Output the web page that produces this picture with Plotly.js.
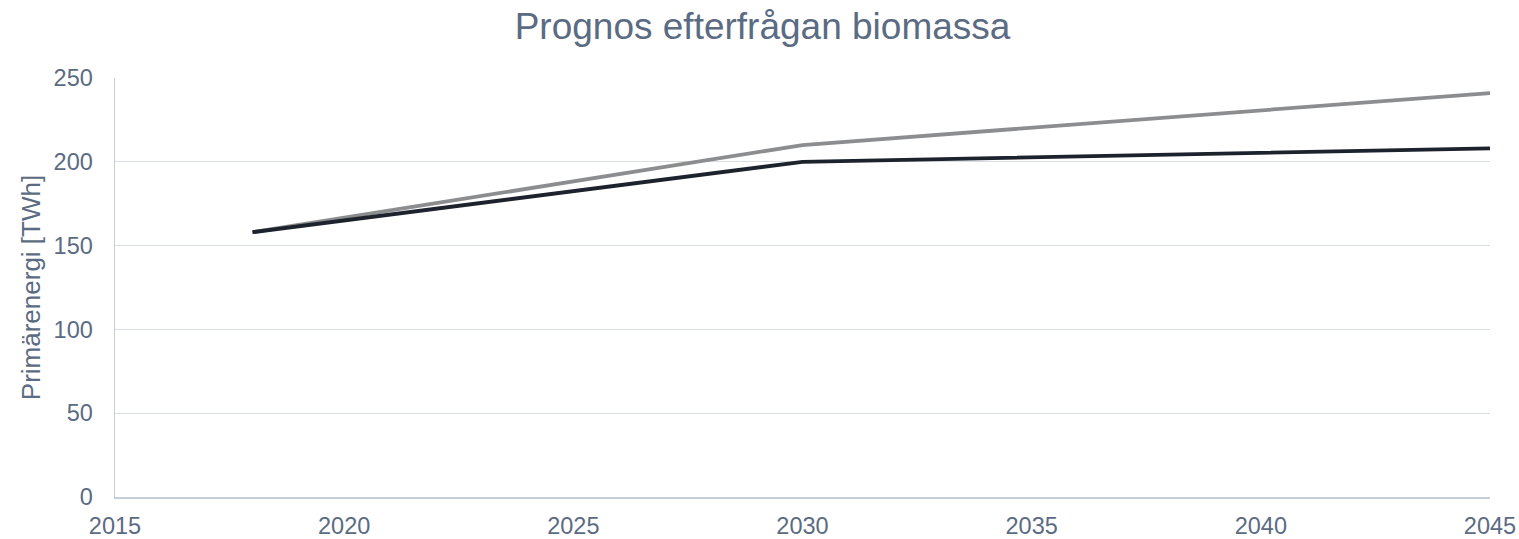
<!DOCTYPE html>
<html>
<head>
<meta charset="utf-8">
<script src="https://cdn.plot.ly/plotly-3.0.1.min.js"></script>
<style>html,body{margin:0;padding:0;background:#fff;}#chart{width:1519px;height:539px;}</style>
</head>
<body>
<div id="chart"></div>
<script>
const years = [2018, 2030, 2045];
const seriesHigh = [158, 210, 241];
const seriesLow = [158, 200, 208];
const xTicks = [2015, 2020, 2025, 2030, 2035, 2040, 2045];
const yTicks = [0, 50, 100, 150, 200, 250];

const textColor = '#5b6b82';
const traces = [
  {x: years, y: seriesHigh, type: 'scatter', mode: 'lines', name: 'Hög',
   line: {color: '#8c8d8f', width: 3.8}},
  {x: years, y: seriesLow, type: 'scatter', mode: 'lines', name: 'Låg',
   line: {color: '#1d232d', width: 3.8}}
];
const layout = {
  width: 1519, height: 539,
  margin: {l: 115, r: 29, t: 78, b: 42},
  paper_bgcolor: '#fff', plot_bgcolor: '#fff',
  showlegend: false,
  font: {family: 'Liberation Sans, Arial, sans-serif', color: textColor, size: 23},
  title: {text: 'Prognos efterfrågan biomassa', font: {size: 37, color: textColor},
          x: 0.502, xref: 'container', y: 0.952, yref: 'container', yanchor: 'middle'},
  xaxis: {range: [2015, 2045], tickvals: xTicks, ticktext: xTicks.map(String),
          showgrid: false, zeroline: false, showline: true, linecolor: '#c5cdd8', linewidth: 1.5,
          ticks: '', ticklabelstandoff: 7, tickfont: {size: 23.5, color: textColor}},
  yaxis: {range: [0, 250], tickvals: yTicks, showgrid: true, gridcolor: '#d9dee5', gridwidth: 1.3,
          zeroline: false, showline: true, linecolor: '#c5cdd8', linewidth: 1.5,
          ticks: '', ticklabelstandoff: 16, tickfont: {size: 23.5, color: textColor},
          title: {text: 'Primärenergi [TWh]', font: {size: 26, color: textColor}, standoff: 5}}
};
Plotly.newPlot('chart', traces, layout, {displayModeBar: false, staticPlot: true});
</script>
</body>
</html>
